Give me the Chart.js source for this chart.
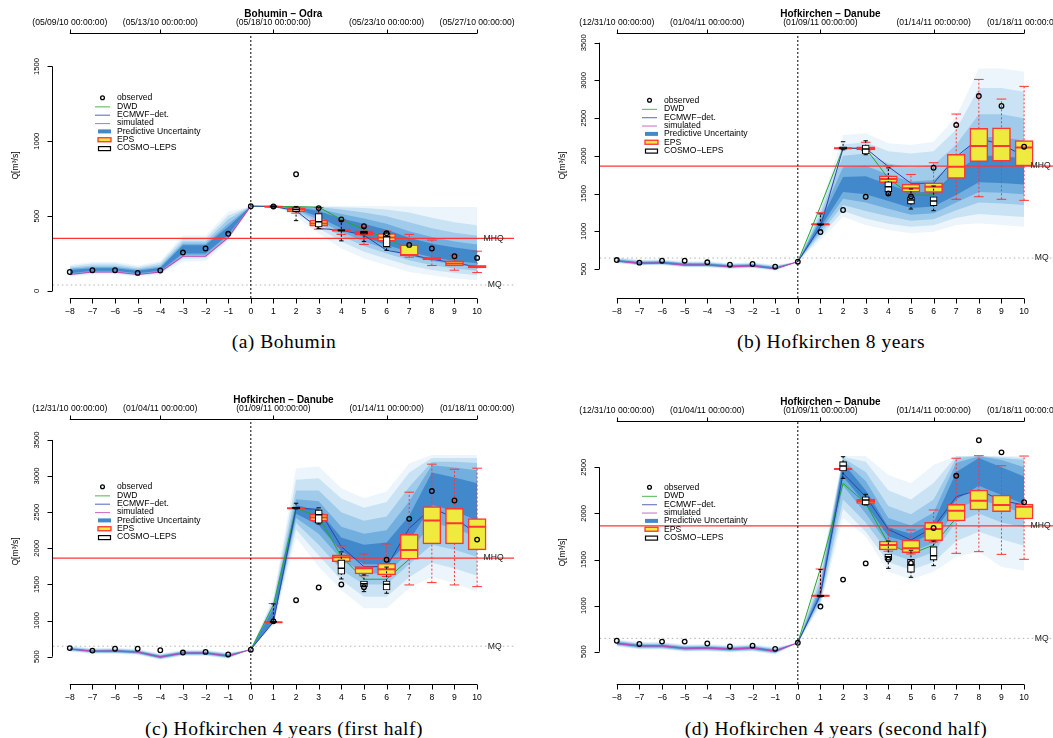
<!DOCTYPE html>
<html><head><meta charset="utf-8">
<script src="https://cdn.jsdelivr.net/npm/chart.js@4.4.1/dist/chart.umd.min.js"></script>
<style>
body{margin:0;width:1053px;height:738px;overflow:hidden;background:#fff;position:relative;}
canvas{position:absolute;}
.cap{position:absolute;font-family:"Liberation Serif","Times New Roman",serif;font-size:19.5px;letter-spacing:0.5px;line-height:22px;color:#000;white-space:nowrap;transform:translateX(-50%);}
</style></head><body>
<canvas id="ca" width="547" height="330" style="left:0;top:0"></canvas>
<canvas id="cb" width="548" height="330" style="left:547px;top:0"></canvas>
<canvas id="cc" width="547" height="330" style="left:0;top:386px"></canvas>
<canvas id="cd" width="548" height="330" style="left:547px;top:386px"></canvas>
<div class="cap" style="left:284px;top:331px">(a) Bohumin</div>
<div class="cap" style="left:831px;top:331px">(b) Hofkirchen 8 years</div>
<div class="cap" style="left:284px;top:718px">(c) Hofkirchen 4 years (first half)</div>
<div class="cap" style="left:836px;top:718px">(d) Hofkirchen 4 years (second half)</div>
<script>
// ---------- categories / ticks ----------
const xsAll = [-8,-7,-6,-5,-4,-3,-2,-1,0,1,2,3,4,5,6,7,8,9,10];
const hcX = [-8,-7,-6,-5,-4,-3,-2,-1,0];
const f0X = [0,1,2,3,4,5,6,7,8,9,10];
const dwdX = [0,1,2,3,4,5,6,7];
const fcX = [1,2,3,4,5,6,7,8,9,10];
const cosmoX = [1,2,3,4,5,6];
const xTickLabels = ['\u22128','\u22127','\u22126','\u22125','\u22124','\u22123','\u22122','\u22121','0','1','2','3','4','5','6','7','8','9','10'];
const topTickX = [-8,-4,1,6,10];
const datesA = ['(05/09/10 00:00:00)','(05/13/10 00:00:00)','(05/18/10 00:00:00)','(05/23/10 00:00:00)','(05/27/10 00:00:00)'];
const datesH = ['(12/31/10 00:00:00)','(01/04/11 00:00:00)','(01/09/11 00:00:00)','(01/14/11 00:00:00)','(01/18/11 00:00:00)'];
const yTicksA = [0,500,1000,1500];
const yTicksBC = [500,1000,1500,2000,2500,3000,3500];
const yTicksD = [500,1000,1500,2000,2500];
const legendLabels = ['observed','DWD','ECMWF\u2212det.','simulated','Predictive Uncertainty','EPS','COSMO\u2212LEPS'];

// ---------- Panel A: Bohumin ----------
const obsA = [127,139,139,121,137,257,284,382,567,565,780,554,478,433,386,308,284,232,221];
const simA = [110,127,127,110,127,232,232,357,567];
const ecmwfA = [567,565,536,418,406,373,272,244,212,188,161];
const dwdA = [567,565,563,560,478,410,351,280];
const epsA = [[560,562,563,565,567],[520,529,545,556,560],[413,433,451,473,558],[378,400,406,413,475],[311,373,388,402,428],[291,333,357,384,400],[226,234,240,308,378],[170,210,217,224,340],[139,168,183,201,239],[123,154,163,170,266]];
const cosmoA = [[562,563,565,567,568],[470,529,545,558,565],[418,428,462,518,556],[335,400,405,410,470],[330,380,390,400,420],[272,295,362,388,395]];
const fanA_hi1 = [175,195,195,170,200,370,370,530,567, 567,567,567,567,567,567,565,562,562,562];
const fanA_lo1 = [95,110,110,95,110,195,200,330,567, 567,500,384,284,217,172,127,105,83,72];
const fanA_hi2 = [165,183,183,160,188,350,350,505,567, 567,567,565,560,555,545,525,490,460,440];
const fanA_lo2 = [102,118,118,102,118,215,218,345,567, 567,520,420,330,262,215,170,140,120,105];
const fanA_hi3 = [155,170,170,150,175,330,330,480,567, 567,566,560,545,525,500,460,420,390,370];
const fanA_lo3 = [108,124,124,108,124,230,230,355,567, 567,535,450,365,300,250,205,172,150,135];
const fanA_hi4 = [148,160,160,142,162,315,315,450,567, 567,564,548,515,485,450,400,360,330,310];
const fanA_lo4 = [113,130,130,113,130,240,240,365,567, 567,545,472,395,330,280,235,200,178,162];
const fanA_hi5 = [140,152,152,135,155,305,305,430,567, 567,562,535,485,450,410,355,315,290,270];
const fanA_lo5 = [118,135,135,118,135,250,250,375,567, 567,552,495,420,360,308,262,225,200,185];

// ---------- Hofkirchen observations ----------
const obsH = [619,584,610,610,589,557,566,531,597,990,1282,1458,1500,1462,1842,2408,2793,2662,2121];

// ---------- Panel B: Hofkirchen 8 years ----------
const simB = [606,575,580,553,553,531,540,504,597];
const ecmwfB = [597,1060,2100,2100,1857,1636,1636,1988,2230,2150,2000];
const dwdB = [597,1330,2100,2100,1702,1480,1480,1800];
const epsB = [[1085,1088,1092,1096,1246],[2095,2098,2100,2103,2106],[2070,2077,2100,2121,2180],[1640,1643,1693,1736,1865],[1500,1520,1570,1626,1753],[1500,1516,1591,1644,1909],[1424,1702,1857,2020,2554],[1458,1922,2130,2364,3013],[1424,1931,2130,2373,2753],[1410,1865,2112,2204,2921]];
const cosmoB = [[1080,1088,1092,1096,1230],[2080,2090,2105,2120,2187],[2015,2024,2090,2143,2200],[1480,1525,1591,1657,1840],[1295,1361,1414,1458,1560],[1273,1339,1401,1458,1600]];
const fanB_hi1 = [655,625,630,605,605,580,590,555,597, 1330,2276,2300,2166,2143,2187,2519,3159,3159,3115];
const fanB_lo1 = [575,545,550,520,520,500,510,478,597, 884,1193,1083,1017,973,995,1083,1105,1083,1060];
const fanB_hi2 = [645,615,620,593,593,570,580,545,597, 1280,2150,2180,2060,2030,2060,2350,2900,2900,2850];
const fanB_lo2 = [583,552,557,528,528,508,517,485,597, 930,1270,1170,1100,1060,1080,1180,1230,1210,1190];
const fanB_hi3 = [635,605,610,583,583,561,570,535,597, 1230,2000,2030,1900,1850,1880,2150,2550,2550,2500];
const fanB_lo3 = [590,558,563,535,535,514,523,490,597, 970,1350,1270,1200,1140,1160,1280,1380,1370,1350];
const fanB_hi4 = [627,597,602,575,575,553,562,527,597, 1180,1850,1870,1750,1660,1680,1950,2250,2250,2200];
const fanB_lo4 = [596,564,569,541,541,520,529,495,597, 1010,1430,1380,1300,1220,1240,1380,1520,1510,1490];
const fanB_hi5 = [620,590,595,568,568,546,555,520,597, 1140,1720,1730,1620,1520,1520,1790,2000,2000,1960];
const fanB_lo5 = [602,570,575,547,547,526,535,500,597, 1050,1520,1490,1400,1310,1330,1480,1650,1640,1620];

// ---------- Panel C: Hofkirchen 4 years (first half) ----------
const simC = [606,575,578,565,495,550,550,510,600];
const ecmwfC = [600,980,2555,2540,2023,1746,1746,2278,2560,2420,2200];
const dwdC = [600,1216,2555,2440,1885,1572,1572,1850];
const epsC = [[972,974,976,980,1235],[2550,2553,2555,2558,2560],[2370,2380,2425,2472,2480],[1800,1816,1877,1909,2033],[1620,1645,1724,1746,1922],[1610,1632,1711,1793,2061],[1493,1849,1978,2195,2777],[1525,2061,2384,2578,3165],[1493,2061,2347,2555,3095],[1470,1978,2300,2411,3109]];
const cosmoC = [[975,978,982,988,1230],[2545,2550,2560,2570,2624],[2337,2347,2463,2532,2560],[1576,1641,1724,1839,1950],[1400,1470,1510,1548,1632],[1378,1424,1502,1548,1740]];
const fanC_hi1 = [650,620,625,610,545,595,595,560,600, 1330,3109,3131,2832,2694,2785,3178,3293,3293,3293];
const fanC_lo1 = [570,540,540,525,455,510,510,470,600, 940,2150,1746,1424,1170,1170,1447,1608,1516,1400];
const fanC_hi2 = [640,610,615,600,535,585,585,550,600, 1290,2950,2970,2690,2560,2640,3050,3250,3250,3250];
const fanC_lo2 = [578,547,548,533,463,518,518,478,600, 960,2260,1900,1560,1330,1330,1600,1800,1720,1620];
const fanC_hi3 = [630,600,605,590,525,575,575,540,600, 1250,2800,2800,2500,2380,2440,2850,3200,3200,3180];
const fanC_lo3 = [585,554,556,541,471,526,526,486,600, 975,2350,2050,1700,1500,1500,1780,2050,1980,1880];
const fanC_hi4 = [622,592,596,582,517,567,567,532,600, 1210,2680,2650,2300,2200,2250,2650,3150,3120,3080];
const fanC_lo4 = [592,561,563,548,478,533,533,493,600, 985,2420,2200,1850,1650,1650,1950,2350,2280,2150];
const fanC_hi5 = [615,585,588,575,510,560,560,525,600, 1170,2600,2520,2150,2050,2080,2450,3050,2980,2900];
const fanC_lo5 = [598,567,569,555,485,540,540,500,600, 990,2480,2320,1960,1780,1780,2100,2600,2520,2380];

// ---------- Panel D: Hofkirchen 4 years (second half) ----------
const simD = [591,562,562,537,540,529,540,507,598];
const ecmwfD = [598,1115,2435,2181,1827,1711,1850,2181,2254,2140,2091];
const dwdD = [598,1404,2326,2109,1675,1560,1657,1950];
const epsD = [[1100,1103,1107,1110,1397],[2475,2478,2481,2484,2487],[2100,2109,2134,2153,2160],[1590,1603,1657,1701,1827],[1560,1574,1621,1711,1820],[1690,1704,1830,1903,2037],[1567,1918,2030,2099,2598],[1585,2037,2138,2254,2626],[1556,2018,2091,2199,2517],[1502,1939,2073,2102,2622]];
const cosmoD = [[1095,1100,1107,1115,1390],[2380,2460,2514,2561,2615],[2091,2091,2145,2181,2207],[1404,1494,1530,1560,1700],[1307,1361,1440,1502,1600],[1433,1494,1541,1639,1700]];
const fanD_hi1 = [635,605,605,580,583,572,583,550,598, 1400,2622,2622,2417,2326,2525,2622,2622,2622,2622];
const fanD_lo1 = [555,525,525,500,503,492,503,470,598, 990,1950,1750,1368,1285,1368,1530,1585,1420,1380];
const fanD_hi2 = [625,596,596,571,574,563,574,541,598, 1350,2615,2560,2250,2150,2330,2620,2622,2615,2600];
const fanD_lo2 = [562,532,532,507,510,499,510,477,598, 1020,2050,1800,1470,1390,1470,1700,1800,1720,1650];
const fanD_hi3 = [616,587,587,562,565,554,565,532,598, 1280,2600,2450,2080,1990,2150,2600,2622,2600,2580];
const fanD_lo3 = [569,539,539,514,517,506,517,484,598, 1050,2150,1900,1570,1490,1580,1900,2000,1900,1850];
const fanD_hi4 = [608,579,579,554,557,546,557,524,598, 1220,2580,2350,1950,1870,2010,2550,2620,2580,2500];
const fanD_lo4 = [576,546,546,521,524,513,524,491,598, 1080,2300,2000,1660,1580,1680,2050,2150,2080,2000];
const fanD_hi5 = [601,572,572,547,550,539,550,517,598, 1170,2550,2250,1850,1780,1900,2450,2600,2500,2400];
const fanD_lo5 = [583,553,553,528,531,520,531,498,598, 1110,2400,2100,1750,1680,1790,2150,2300,2200,2100];

// ---------- reference levels ----------
const mhqA = 352, mqA = 40, mhqH = 1865, mqH = 645;

// ---------- styling ----------
const FONT = '"Liberation Sans", Arial, Helvetica, sans-serif';
const FAN_COLORS = ['#ebf5fb','#cae3f4','#a0cbeb','#72aede','#4289cb'];
const C_DWD = '#22a82a', C_ECM = '#2c44aa', C_SIM = '#c445b4', C_RED = '#ff3434', C_YEL = '#eeea3e';
const X_MIN = -8.75, X_MAX = 11.63;

function panel(canvasId, P) {
  const ds = [];
  const add = d => { ds.push(d); return ds.length - 1; };
  const pts = (X, Y) => X.map((x, i) => ({x, y: Y[i]}));
  P.fan.forEach(([lo, hi], k) => {
    const li = add({type:'line', data: pts(xsAll, lo), borderWidth:0, pointRadius:0, fill:false});
    add({type:'line', data: pts(xsAll, hi), borderWidth:0, pointRadius:0, fill: li, backgroundColor: FAN_COLORS[k]});
  });
  add({type:'line', data:[{x:X_MIN,y:P.mq},{x:X_MAX,y:P.mq}], borderColor:'#b3b3b3', borderWidth:1, borderDash:[1.5,3], pointRadius:0, fill:false});
  add({type:'line', data:[{x:X_MIN,y:P.mhq},{x:X_MAX,y:P.mhq}], borderColor:C_RED, borderWidth:1.3, pointRadius:0, fill:false});
  add({type:'line', data: pts(hcX, P.sim), borderColor:C_SIM, borderWidth:1.1, pointRadius:0, fill:false});
  add({type:'line', data: pts(dwdX, P.dwd), borderColor:C_DWD, borderWidth:1, pointRadius:0, fill:false});
  add({type:'line', data: pts(f0X, P.ecmwf), borderColor:C_ECM, borderWidth:1, pointRadius:0, fill:false});
  add({type:'line', data:[{x:0,y:P.yMin},{x:0,y:P.yMax}], borderColor:'#000', borderWidth:1, borderDash:[2,2], pointRadius:0, fill:false});
  const boxSet = (X, rows, col, fillC, thick, capR, medW, bw) => {
    const wh = [];
    X.forEach((x, i) => { wh.push({x, y: rows[i][0]}, {x, y: rows[i][4]}, {x, y: null}); });
    add({type:'line', data: wh, borderColor: col, borderWidth: 1, borderDash:[2,2], pointRadius:0, fill:false, spanGaps:false});
    add({type:'bar', data: X.map((x, i) => ({x, y:[rows[i][1], rows[i][3]]})), backgroundColor: fillC, borderColor: col, borderWidth: bw, borderSkipped:false, barThickness: thick, grouped:false});
    add({type:'scatter', data: X.map((x, i) => ({x, y: rows[i][2]})), pointStyle:'line', pointRadius: thick/2, pointBorderWidth: medW, pointBorderColor: col, showLine:false});
    const caps = [];
    X.forEach((x, i) => { caps.push({x, y: rows[i][0]}, {x, y: rows[i][4]}); });
    add({type:'scatter', data: caps, pointStyle:'line', pointRadius: capR, pointBorderWidth: 1, pointBorderColor: col, showLine:false});
  };
  boxSet(fcX, P.eps, C_RED, C_YEL, 18, 4.8, 2, 1.5);
  boxSet(cosmoX, P.cosmo, '#000', '#fff', 7, 2.2, 1.5, 1.1);
  add({type:'scatter', data: pts(xsAll, P.obs), pointStyle:'circle', pointRadius:2.3, pointBorderWidth:1.3, pointBorderColor:'#000', pointBackgroundColor:'rgba(0,0,0,0)', showLine:false});
  ds.forEach((d, i) => { d.order = ds.length - i; });

  const cv = document.getElementById(canvasId);
  const W = cv.width, H = cv.height;
  const rAxes = {
    id: 'rAxes',
    afterDraw(chart) {
      const ctx = chart.ctx, xs = chart.scales.x, ys = chart.scales.y, ca = chart.chartArea;
      ctx.save();
      ctx.strokeStyle = '#000'; ctx.fillStyle = '#000'; ctx.lineWidth = 1;
      const yb = Math.round(ca.bottom) + 0.5;
      ctx.beginPath();
      ctx.moveTo(xs.getPixelForValue(xsAll[0]), yb); ctx.lineTo(xs.getPixelForValue(xsAll[xsAll.length-1]), yb);
      xsAll.forEach(v => { const px = Math.round(xs.getPixelForValue(v)) + 0.5; ctx.moveTo(px, yb); ctx.lineTo(px, yb + 5); });
      const yt = Math.round(ca.top) + 0.5;
      ctx.moveTo(xs.getPixelForValue(topTickX[0]), yt); ctx.lineTo(xs.getPixelForValue(topTickX[topTickX.length-1]), yt);
      topTickX.forEach(v => { const px = Math.round(xs.getPixelForValue(v)) + 0.5; ctx.moveTo(px, yt); ctx.lineTo(px, yt - 4); });
      const xl = Math.round(ca.left) - 0.5;
      ctx.moveTo(xl, ys.getPixelForValue(P.yTicks[0])); ctx.lineTo(xl, ys.getPixelForValue(P.yTicks[P.yTicks.length-1]));
      P.yTicks.forEach(v => { const py = Math.round(ys.getPixelForValue(v)) + 0.5; ctx.moveTo(xl, py); ctx.lineTo(xl - 5, py); });
      ctx.stroke();
      ctx.textAlign = 'center'; ctx.textBaseline = 'middle';
      ctx.font = '8.6px ' + FONT;
      xsAll.forEach((v, i) => ctx.fillText(xTickLabels[i], xs.getPixelForValue(v), ca.bottom + 14));
      topTickX.forEach((v, i) => ctx.fillText(P.dates[i], xs.getPixelForValue(v), ca.top - 10.5));
      ctx.font = 'bold 10px ' + FONT;
      ctx.fillText(P.title, (ca.left + ca.right) / 2, ca.top - 18.8);
      ctx.font = '7.6px ' + FONT;
      P.yTicks.forEach(v => {
        ctx.save(); ctx.translate(ca.left - 16, ys.getPixelForValue(v)); ctx.rotate(-Math.PI/2);
        ctx.fillText(String(v), 0, 0); ctx.restore();
      });
      ctx.save(); ctx.font = '8.6px ' + FONT; ctx.translate(ca.left - 37, (ca.top + ca.bottom) / 2); ctx.rotate(-Math.PI/2);
      ctx.fillText('Q[m\u00B3/s]', 0, 0); ctx.restore();
      ctx.font = '8.6px ' + FONT; ctx.fillStyle = '#222';
      ctx.fillText('MHQ', xs.getPixelForValue(10.73), ys.getPixelForValue(P.mhq));
      ctx.fillText('MQ', xs.getPixelForValue(10.78), ys.getPixelForValue(P.mq));
      ctx.fillStyle = '#000'; ctx.textAlign = 'left';
      const lx = 117, sx = 98;
      legendLabels.forEach((t, i) => {
        const y = P.legY + i * 8.35;
        ctx.fillText(t, lx, y);
        ctx.lineWidth = 1.1;
        if (i === 0) { ctx.beginPath(); ctx.arc(sx + 4.5, y - 0.3, 1.9, 0, Math.PI*2); ctx.lineWidth = 1.3; ctx.strokeStyle='#000'; ctx.stroke(); }
        else if (i <= 3) { ctx.beginPath(); ctx.moveTo(sx - 3, y + 0.5); ctx.lineTo(sx + 12, y + 0.5); ctx.strokeStyle = [C_DWD, C_ECM, C_SIM][i-1]; ctx.globalAlpha = 0.75; ctx.stroke(); ctx.globalAlpha = 1; }
        else if (i === 4) { ctx.fillStyle = '#4289cb'; ctx.fillRect(sx, y - 2, 13, 4); ctx.fillStyle = '#000'; }
        else if (i === 5) { ctx.fillStyle = C_YEL; ctx.fillRect(sx, y - 2, 13, 4); ctx.strokeStyle = C_RED; ctx.lineWidth = 1.3; ctx.strokeRect(sx, y - 2, 13, 4); ctx.fillStyle = '#000'; }
        else { ctx.strokeStyle = '#000'; ctx.lineWidth = 1.2; ctx.strokeRect(sx + 0.5, y - 1.5, 12, 4); }
      });
      ctx.restore();
    }
  };
  new Chart(cv, {
    type: 'line',
    data: { datasets: ds },
    options: {
      responsive:false, animation:false, events:[],
      layout:{ padding:{ left:52.8, right: W - 514, top: P.top, bottom: H - 298 } },
      scales:{
        x:{ type:'linear', min:X_MIN, max:X_MAX, display:false, offset:false },
        y:{ type:'linear', min:P.yMin, max:P.yMax, display:false }
      },
      plugins:{ legend:{display:false}, tooltip:{enabled:false} }
    },
    plugins:[rAxes]
  });
}

panel('ca', { title:'Bohumin \u2212 Odra', dates:datesA, yTicks:yTicksA, yMin:-46.8, yMax:1723.8, top:33, legY:98,
  obs:obsA, sim:simA, ecmwf:ecmwfA, dwd:dwdA, eps:epsA, cosmo:cosmoA, mhq:mhqA, mq:mqA,
  fan:[[fanA_lo1,fanA_hi1],[fanA_lo2,fanA_hi2],[fanA_lo3,fanA_hi3],[fanA_lo4,fanA_hi4],[fanA_lo5,fanA_hi5]] });
panel('cb', { title:'Hofkirchen \u2212 Danube', dates:datesH, yTicks:yTicksBC, yMin:115.6, yMax:3628.6, top:33, legY:100.5,
  obs:obsH, sim:simB, ecmwf:ecmwfB, dwd:dwdB, eps:epsB, cosmo:cosmoB, mhq:mhqH, mq:mqH,
  fan:[[fanB_lo1,fanB_hi1],[fanB_lo2,fanB_hi2],[fanB_lo3,fanB_hi3],[fanB_lo4,fanB_hi4],[fanB_lo5,fanB_hi5]] });
panel('cc', { title:'Hofkirchen \u2212 Danube', dates:datesH, yTicks:yTicksBC, yMin:122, yMax:3790, top:33, legY:101,
  obs:obsH, sim:simC, ecmwf:ecmwfC, dwd:dwdC, eps:epsC, cosmo:cosmoC, mhq:mhqH, mq:mqH,
  fan:[[fanC_lo1,fanC_hi1],[fanC_lo2,fanC_hi2],[fanC_lo3,fanC_hi3],[fanC_lo4,fanC_hi4],[fanC_lo5,fanC_hi5]] });
panel('cd', { title:'Hofkirchen \u2212 Danube', dates:datesH, yTicks:yTicksD, yMin:150, yMax:3002, top:35, legY:101.5,
  obs:obsH, sim:simD, ecmwf:ecmwfD, dwd:dwdD, eps:epsD, cosmo:cosmoD, mhq:mhqH, mq:mqH,
  fan:[[fanD_lo1,fanD_hi1],[fanD_lo2,fanD_hi2],[fanD_lo3,fanD_hi3],[fanD_lo4,fanD_hi4],[fanD_lo5,fanD_hi5]] });
</script>
</body></html>
